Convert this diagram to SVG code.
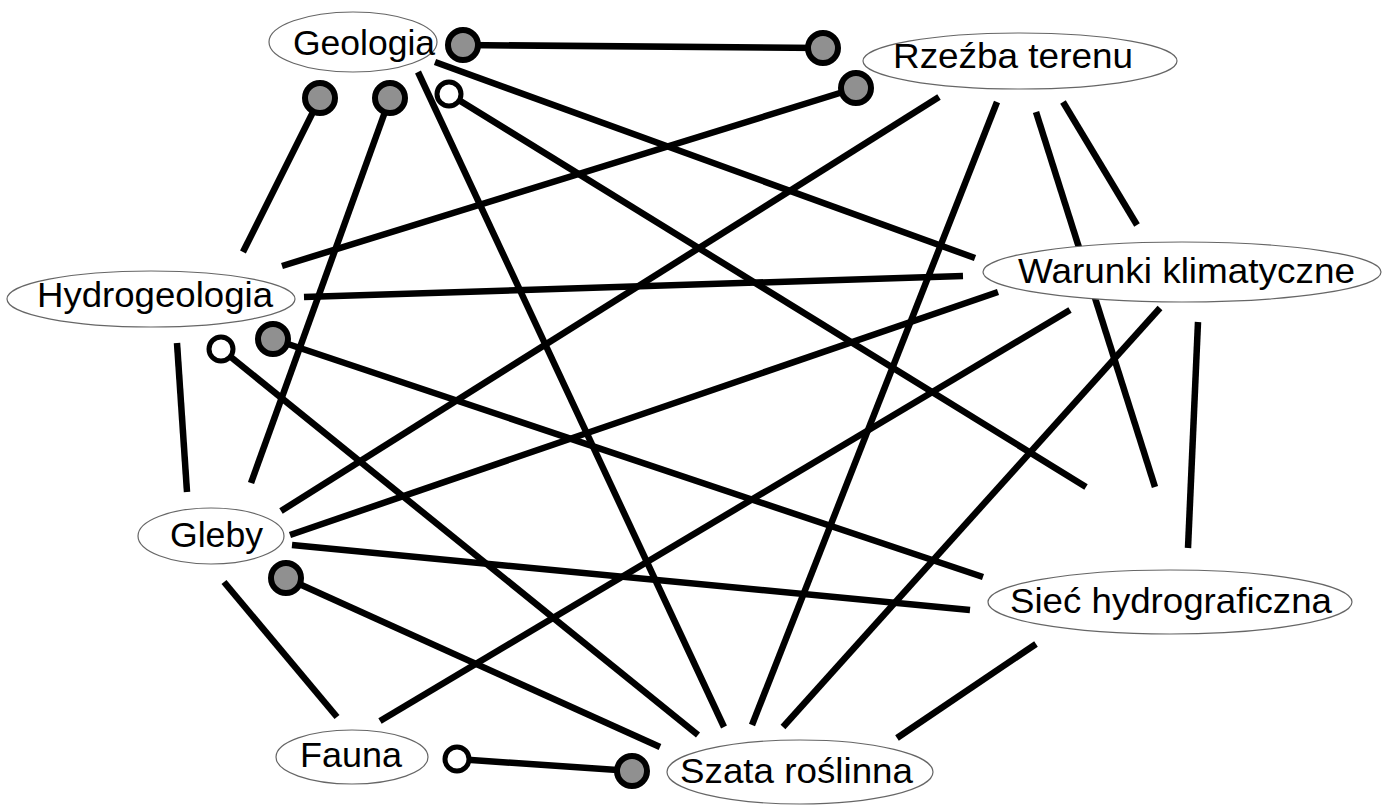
<svg xmlns="http://www.w3.org/2000/svg" width="1388" height="805" viewBox="0 0 1388 805">
<style>
.bg{fill:#fff}
.ln{stroke:#000;stroke-width:6.5;stroke-linecap:butt;fill:none}
.fc{fill:#909090;stroke:#000;stroke-width:6}
.oc{fill:#fff;stroke:#000;stroke-width:5}
.node ellipse{fill:#fff;stroke:#666;stroke-width:1.2}
.node text{font-family:"Liberation Sans",Arial,sans-serif;font-size:35px;fill:#000}
</style>
<rect class="bg" x="0" y="0" width="1388" height="805"/>
<g id="connectors">
<line class="ln" x1="463" y1="45" x2="823" y2="48"/>
<line class="ln" x1="320" y1="98" x2="243" y2="252"/>
<line class="ln" x1="390" y1="98" x2="251" y2="483"/>
<line class="ln" x1="449" y1="94" x2="1086" y2="487"/>
<line class="ln" x1="418" y1="72" x2="724" y2="727"/>
<line class="ln" x1="435" y1="62" x2="975" y2="258"/>
<line class="ln" x1="856" y1="88" x2="282" y2="266"/>
<line class="ln" x1="939" y1="97" x2="281" y2="511"/>
<line class="ln" x1="997" y1="102" x2="752" y2="725"/>
<line class="ln" x1="1036" y1="112" x2="1155" y2="487"/>
<line class="ln" x1="1063" y1="102" x2="1137" y2="225"/>
<line class="ln" x1="304" y1="297" x2="963" y2="276"/>
<line class="ln" x1="177" y1="343" x2="187" y2="492"/>
<line class="ln" x1="273" y1="339" x2="983" y2="577"/>
<line class="ln" x1="221" y1="349" x2="698" y2="735"/>
<line class="ln" x1="998" y1="292" x2="290" y2="535"/>
<line class="ln" x1="1070" y1="310" x2="380" y2="721"/>
<line class="ln" x1="1160" y1="308" x2="783" y2="727"/>
<line class="ln" x1="1198" y1="322" x2="1188" y2="548"/>
<line class="ln" x1="292" y1="545" x2="970" y2="610"/>
<line class="ln" x1="286" y1="578" x2="660" y2="747"/>
<line class="ln" x1="224" y1="582" x2="337" y2="717"/>
<line class="ln" x1="457" y1="759" x2="632" y2="771"/>
<line class="ln" x1="1036" y1="644" x2="897" y2="738"/>
<circle class="fc" cx="463" cy="45" r="15"/>
<circle class="fc" cx="823" cy="48" r="15"/>
<circle class="fc" cx="320" cy="98" r="15"/>
<circle class="fc" cx="390" cy="98" r="15"/>
<circle class="oc" cx="449" cy="94" r="12"/>
<circle class="fc" cx="856" cy="88" r="15"/>
<circle class="fc" cx="273" cy="339" r="15"/>
<circle class="oc" cx="221" cy="349" r="12"/>
<circle class="fc" cx="286" cy="578" r="15"/>
<circle class="oc" cx="457" cy="759" r="12"/>
<circle class="fc" cx="632" cy="771" r="15"/>
</g>
<g id="geologia" class="node">
<ellipse cx="353" cy="42" rx="84" ry="30"/>
<text x="293" y="55" textLength="142" lengthAdjust="spacingAndGlyphs">Geologia</text>
</g>
<g id="rzezba" class="node">
<ellipse cx="1020" cy="61" rx="157" ry="28"/>
<text x="893" y="68" textLength="240" lengthAdjust="spacingAndGlyphs">Rzeźba terenu</text>
</g>
<g id="hydrogeologia" class="node">
<ellipse cx="151" cy="299" rx="144" ry="28"/>
<text x="37" y="307" textLength="236" lengthAdjust="spacingAndGlyphs">Hydrogeologia</text>
</g>
<g id="warunki" class="node">
<ellipse cx="1182" cy="272" rx="199" ry="30"/>
<text x="1018" y="283" textLength="337" lengthAdjust="spacingAndGlyphs">Warunki klimatyczne</text>
</g>
<g id="gleby" class="node">
<ellipse cx="211" cy="536" rx="73" ry="28"/>
<text x="170" y="547" textLength="93" lengthAdjust="spacingAndGlyphs">Gleby</text>
</g>
<g id="siec" class="node">
<ellipse cx="1170" cy="602" rx="182" ry="32"/>
<text x="1010" y="613" textLength="322" lengthAdjust="spacingAndGlyphs">Sieć hydrograficzna</text>
</g>
<g id="fauna" class="node">
<ellipse cx="352" cy="757" rx="76" ry="27"/>
<text x="300" y="767" textLength="102" lengthAdjust="spacingAndGlyphs">Fauna</text>
</g>
<g id="szata" class="node">
<ellipse cx="800" cy="772" rx="133" ry="32"/>
<text x="680" y="783" textLength="233" lengthAdjust="spacingAndGlyphs">Szata roślinna</text>
</g>
</svg>
